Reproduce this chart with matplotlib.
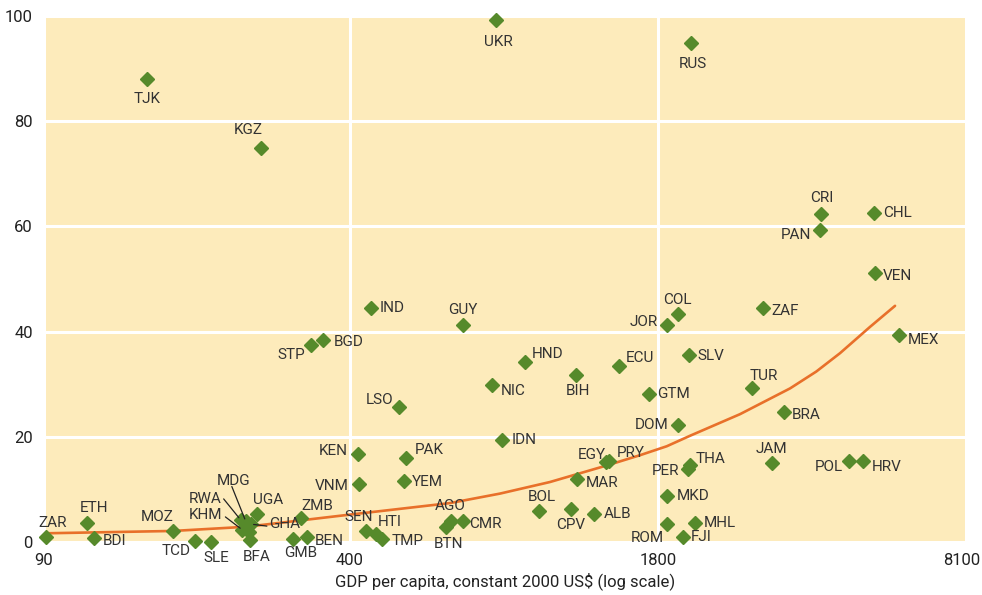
import matplotlib
matplotlib.use("Agg")
import matplotlib.pyplot as plt
import matplotlib.transforms as mtransforms
from matplotlib.ticker import FixedLocator, NullLocator

plt.rcParams['font.family'] = ['Liberation Sans Narrow', 'Roboto', 'DejaVu Sans']

# country codes, GDP per capita (constant 2000 US$) and share (%)
codes = ['ZAR', 'ETH', 'BDI', 'MOZ', 'TCD', 'SLE', 'RWA', 'MDG', 'GHA', 'KHM', '', 'BFA',
         'UGA', 'ZMB', 'GMB', 'BEN', 'STP', 'BGD', 'KEN', 'VNM', 'SEN', 'IND', 'HTI', 'TMP',
         'LSO', 'YEM', 'PAK', 'BTN', 'AGO', 'GUY', 'CMR', 'NIC', 'UKR', 'IDN', 'HND', 'BOL',
         'CPV', 'BIH', 'MAR', 'ALB', 'EGY', 'PRY', 'ECU', 'GTM', 'JOR', 'MKD', 'ROM', 'COL',
         'DOM', 'FJI', 'PER', 'SLV', 'THA', 'RUS', 'MHL', 'TUR', 'ZAF', 'JAM', 'BRA', 'PAN',
         'CRI', 'POL', 'HRV', 'CHL', 'VEN', 'MEX', 'TJK', 'KGZ']
gdp = [91, 111, 115, 169, 188, 203, 235, 241, 247, 237, 245, 246,
       255, 315, 304, 325, 331, 352, 417, 419, 433, 444, 456, 468,
       509, 522, 527, 640, 655, 694, 695, 800, 817, 843, 942, 1008,
       1178, 1209, 1211, 1318, 1400, 1415, 1491, 1721, 1879, 1885, 1885, 1985,
       1985, 2032, 2083, 2096, 2106, 2115, 2155, 2851, 3014, 3137, 3333, 3977,
       3998, 4577, 4905, 5175, 5194, 5839, 149, 260]
pct = [0.9, 3.6, 0.8, 2.1, 0.2, 0.0, 4.2, 3.9, 3.4, 2.3, 1.9, 0.4,
       5.3, 4.5, 0.6, 1.0, 37.4, 38.4, 16.7, 11.0, 2.1, 44.5, 1.5, 0.5,
       25.6, 11.6, 16.0, 2.9, 4.0, 41.3, 3.9, 29.8, 99.2, 19.4, 34.2, 5.9,
       6.3, 31.8, 11.9, 5.3, 15.2, 15.4, 33.5, 28.1, 41.2, 8.7, 3.5, 43.3,
       22.2, 1.0, 13.8, 35.6, 14.6, 94.9, 3.7, 29.3, 44.5, 15.0, 24.8, 59.3,
       62.3, 15.4, 15.4, 62.5, 51.1, 39.4, 88.1, 74.9]

# trend curve
curve_gdp = [90, 169, 242, 400, 653, 833, 1063, 1409, 1650, 1880, 2107, 2688, 3432, 3900, 4380, 5071, 5729]
curve_pct = [1.65, 2.1, 2.9, 5.2, 7.4, 9.2, 11.4, 14.6, 16.5, 18.2, 20.2, 24.3, 29.2, 32.4, 35.9, 40.9, 44.9]

x_ticks = [90, 400, 1800, 8100]
y_ticks = [0, 20, 40, 60, 80, 100]

# label offsets in pixels (dx, dy, ha)
offsets = {
    'ZAR': (6, 14, 'center'), 'ETH': (7, 15, 'center'), 'BDI': (9, -3, 'left'),
    'MOZ': (-16, 14, 'center'), 'TCD': (-19, -10, 'center'), 'SLE': (6, -16, 'center'),
    'UGA': (11, 14, 'center'), 'BFA': (7, -17, 'center'), 'ZMB': (17, 12, 'center'),
    'GMB': (7, -14, 'center'), 'BEN': (8, -4, 'left'), 'STP': (-6, -10, 'right'),
    'BGD': (10, -2, 'left'), 'KEN': (-10, 3, 'right'), 'VNM': (-10, -2, 'right'),
    'SEN': (-7, 14, 'center'), 'IND': (9, 0, 'left'), 'HTI': (13, 12, 'center'),
    'TMP': (10, -2, 'left'), 'LSO': (-6, 7, 'right'), 'YEM': (8, -1, 'left'),
    'PAK': (9, 8, 'left'), 'BTN': (3, -17, 'center'), 'AGO': (0, 15, 'center'),
    'GUY': (0, 15, 'center'), 'CMR': (6, -3, 'left'), 'NIC': (9, -6, 'left'),
    'UKR': (2, -22, 'center'), 'IDN': (9, 0, 'left'), 'HND': (7, 8, 'left'),
    'BOL': (3, 14, 'center'), 'CPV': (0, -16, 'center'), 'BIH': (2, -16, 'center'),
    'MAR': (9, -4, 'left'), 'ALB': (10, 0, 'left'), 'EGY': (-15, 7, 'center'),
    'PRY': (8, 8, 'left'), 'ECU': (7, 8, 'left'), 'GTM': (9, 0, 'left'),
    'JOR': (-9, 3, 'right'), 'MKD': (9, 0, 'left'), 'ROM': (-3, -14, 'right'),
    'COL': (0, 14, 'center'), 'DOM': (-9, 0, 'right'), 'FJI': (8, 0, 'left'),
    'PER': (-8, -2, 'right'), 'SLV': (8, -1, 'left'), 'THA': (6, 6, 'left'),
    'RUS': (2, -21, 'center'), 'MHL': (9, 0, 'left'), 'TUR': (12, 12, 'center'),
    'ZAF': (8, -3, 'left'), 'JAM': (0, 14, 'center'), 'BRA': (8, -3, 'left'),
    'PAN': (-9, -5, 'right'), 'CRI': (0, 16, 'center'), 'POL': (-6, -6, 'right'),
    'HRV': (9, -6, 'left'), 'CHL': (9, 0, 'left'), 'VEN': (8, -3, 'left'),
    'MEX': (9, -5, 'left'), 'TJK': (0, -20, 'center'), 'KGZ': (-13, 18, 'center'),
}
# labels with leader lines: (label dx, dy, ha), line start offset
leaders = {
    'MDG': ((-12, 40, 'center'), (-14, 35)),
    'RWA': ((-19, 21, 'right'), (-17, 21)),
    'KHM': ((-20, 15, 'right'), (-17, 13)),
    'GHA': ((18, 0, 'left'), (16, -2)),
}

bg = '#FDEBBB'
green = '#568A2B'
orange = '#E8702A'
txt = '#333333'

fig = plt.figure(figsize=(9.82, 5.95), dpi=100)
ax = fig.add_axes([44 / 982, 53 / 595, 922 / 982, 526 / 595])
ax.set_facecolor(bg)
ax.set_xscale('log')
ax.set_xlim(90, 8100)
ax.set_ylim(0, 100)

ax.xaxis.set_major_locator(FixedLocator(x_ticks))
ax.xaxis.set_minor_locator(NullLocator())
ax.set_xticklabels([str(t) for t in x_ticks])
ax.set_yticks(y_ticks)
ax.grid(True, color='white', linewidth=2.2)
ax.set_axisbelow(True)
for s in ax.spines.values():
    s.set_visible(False)
ax.tick_params(length=0, labelsize=12, colors='#222222')
ax.tick_params(axis='x', pad=8)
ax.tick_params(axis='y', pad=8)
ax.set_xlabel('GDP per capita, constant 2000 US$ (log scale)', fontsize=12, color='#222222', labelpad=3)

# keep the last x tick label inside the figure
last = ax.get_xticklabels()[-1]
last.set_horizontalalignment('right')
last.set_transform(last.get_transform() + mtransforms.ScaledTranslation(14 / 100, 0, fig.dpi_scale_trans))

ax.plot(curve_gdp, curve_pct, color=orange, linewidth=1.9, zorder=3, solid_capstyle='round',
        solid_joinstyle='round')
ax.plot(gdp, pct, linestyle='none', marker='D', markersize=7, color=green, zorder=4, clip_on=False)

for c, x, y in zip(codes, gdp, pct):
    if c in offsets:
        dx, dy, ha = offsets[c]
        ax.annotate(c, (x, y), xytext=(dx, dy), textcoords='offset pixels',
                    ha=ha, va='center', fontsize=11, color=txt, zorder=5, annotation_clip=False)
    elif c in leaders:
        (dx, dy, ha), (lx, ly) = leaders[c]
        ax.annotate(c, (x, y), xytext=(dx, dy), textcoords='offset pixels',
                    ha=ha, va='center', fontsize=11, color=txt, zorder=5, annotation_clip=False)
        ax.annotate('', (x, y), xytext=(lx, ly), textcoords='offset pixels',
                    arrowprops=dict(arrowstyle='-', color='#222222', lw=0.9, shrinkA=0, shrinkB=2),
                    zorder=5, annotation_clip=False)

fig.savefig('out.png', dpi=100)
